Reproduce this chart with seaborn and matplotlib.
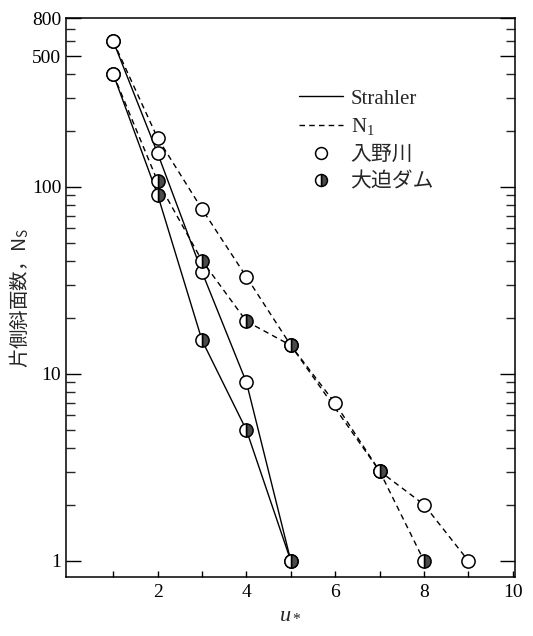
import numpy as np
import pandas as pd
import matplotlib
matplotlib.use("Agg")
import matplotlib.pyplot as plt
import seaborn as sns
from matplotlib.lines import Line2D
from matplotlib.ticker import FixedLocator, FixedFormatter, NullFormatter

# ---- data ----
irino_strahler_u = [1, 2, 3, 4, 5]
irino_strahler_n = [600, 151, 35, 9, 1]
irino_n1_u = [1, 2, 3, 4, 5, 6, 7, 8, 9]
irino_n1_n = [600, 182, 76, 33, 14.2, 6.95, 3.02, 2.0, 1]
osako_strahler_u = [1, 2, 3, 4, 5]
osako_strahler_n = [400, 90.6, 15.1, 5.0, 1]
osako_n1_u = [1, 2, 3, 4, 5, 7, 8]
osako_n1_n = [400, 107, 40.3, 19.1, 14.2, 3.02, 1]

x_ticks = [2, 4, 6, 8, 10]
y_ticks = [1, 10, 100, 500, 800]
y_ticklabels = ["1", "10", "100", "500", "800"]

legend_labels = ["Strahler", "N$_1$", "入野川", "大迫ダム"]
xlabel = "$u_*$"
ylabel = "片側斜面数，N$_\\mathregular{S}$"

frames = []
for basin, method, u, n in [
    ("入野川", "Strahler", irino_strahler_u, irino_strahler_n),
    ("入野川", "N1", irino_n1_u, irino_n1_n),
    ("大迫ダム", "Strahler", osako_strahler_u, osako_strahler_n),
    ("大迫ダム", "N1", osako_n1_u, osako_n1_n),
]:
    frames.append(pd.DataFrame({"u": u, "N": n, "basin": basin, "method": method,
                                "series": basin + method}))
df = pd.concat(frames, ignore_index=True)

sns.set_theme(style="ticks")
plt.rcParams["font.family"] = ["Liberation Serif", "Noto Sans CJK JP", "DejaVu Sans"]
plt.rcParams["mathtext.fontset"] = "custom"
plt.rcParams["mathtext.rm"] = "Liberation Serif"
plt.rcParams["mathtext.it"] = "Liberation Serif:italic"

fig = plt.figure(figsize=(5.33, 6.36), dpi=100)
ax = fig.add_axes([66 / 533, 1 - 577 / 636, (515 - 66) / 533, (577 - 18) / 636])

sns.lineplot(data=df, x="u", y="N", units="series", style="method",
             dashes={"Strahler": "", "N1": (4, 3)}, estimator=None,
             color="black", linewidth=1.0, sort=False, legend=False, ax=ax)

ms = 9.5
mew = 1.1
half_color = "#4a4a4a"
# 入野川 markers (open)
for u, n in [(irino_strahler_u, irino_strahler_n), (irino_n1_u, irino_n1_n)]:
    ax.plot(u, n, linestyle="none", marker="o", ms=ms, mew=mew,
            mfc="white", mec="black", zorder=3)
# 大迫ダム markers (right half dark); the source point at u=1 is printed open
for u, n in [(osako_strahler_u, osako_strahler_n), (osako_n1_u, osako_n1_n)]:
    u = np.asarray(u); n = np.asarray(n)
    first = u == 1
    ax.plot(u[first], n[first], linestyle="none", marker="o", ms=ms, mew=mew,
            mfc="white", mec="black", zorder=4)
    ax.plot(u[~first], n[~first], linestyle="none", marker="o", ms=ms, mew=mew,
            fillstyle="right", mfc=half_color, mfcalt="white", mec="black", zorder=4)

ax.set_yscale("log")
ax.set_xlim(-0.065, 10.05)
ax.set_ylim(0.82, 800)

ax.xaxis.set_major_locator(FixedLocator(x_ticks))
ax.xaxis.set_minor_locator(FixedLocator([1, 3, 5, 7, 9]))
ax.set_xticklabels([str(t) for t in x_ticks])
ax.yaxis.set_major_locator(FixedLocator(y_ticks))
ax.yaxis.set_major_formatter(FixedFormatter(y_ticklabels))
minors = [m * 10 ** k for k in range(0, 3) for m in range(2, 10)]
minors = [v for v in minors if v < 800 and v not in (500,)]
ax.yaxis.set_minor_locator(FixedLocator(minors))
ax.yaxis.set_minor_formatter(NullFormatter())

ax.tick_params(axis="y", which="major", direction="in", length=11, width=1.0,
               labelsize=14, pad=3.5, right=True, left=True, colors="black")
ax.tick_params(axis="y", which="minor", direction="in", length=6.5, width=1.0,
               right=True, left=True)
ax.tick_params(axis="x", which="both", direction="in", length=4.5, width=1.0,
               labelsize=14, pad=5, colors="black")

for s in ax.spines.values():
    s.set_visible(True)
    s.set_linewidth(1.1)
    s.set_color("black")
ax.set_facecolor("white")

ax.set_xlabel(xlabel, fontsize=16, labelpad=2)
ax.set_ylabel(ylabel, fontsize=14, labelpad=0.5, family=["Noto Sans CJK JP", "Liberation Serif"])

handles = [
    Line2D([], [], color="black", lw=1.0),
    Line2D([], [], color="black", lw=1.0, dashes=(4, 3)),
    Line2D([], [], linestyle="none", marker="o", ms=ms * 0.9, mew=mew, mfc="white", mec="black"),
    Line2D([], [], linestyle="none", marker="o", ms=ms * 0.9, mew=mew, fillstyle="right",
           mfc=half_color, mfcalt="white", mec="black"),
]
leg = ax.legend(handles, legend_labels, loc="upper left", bbox_to_anchor=(0.52, 0.873),
                frameon=False, fontsize=15, handlelength=2.1, handletextpad=0.35,
                labelspacing=0.38, borderpad=0, borderaxespad=0)
for t in leg.get_texts():
    t.set_family(["Liberation Serif", "Noto Sans CJK JP"])

fig.savefig("out.png", dpi=100, facecolor="white")
